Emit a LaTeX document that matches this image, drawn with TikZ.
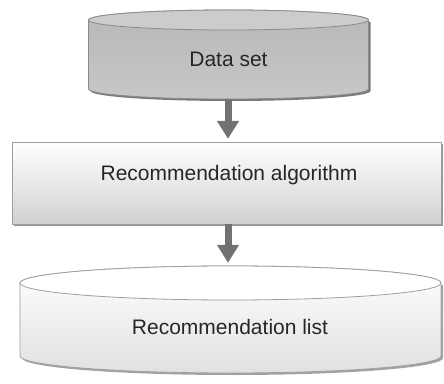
\documentclass[tikz,border=0pt]{standalone}
\usepackage{fontspec}
\setmainfont{Liberation Sans}
\usetikzlibrary{arrows.meta}
\definecolor{edgegray}{HTML}{8A8A8A}
\definecolor{shadowgray}{HTML}{7A7A7A}
\definecolor{arrowgray}{HTML}{727272}
\begin{document}
\begin{tikzpicture}[x=1pt,y=1pt,
  lbl/.style={inner sep=0pt, font=\fontsize{21}{25}\selectfont, text=black!85},
  hold/.style={inner sep=0pt, draw=none},
  arr/.style={draw=arrowgray, line width=7pt, -{Triangle[width=21pt,length=18pt]}, shorten >=3pt}
]
\useasboundingbox (0,0) rectangle (444,383);
\fill[white] (0,0) rectangle (444,383);

% ---------- top cylinder: Data set ----------
\fill[shadowgray] (90.5,361) -- (90.5,292) arc (180:360:140 and 10) -- (370.5,361) -- cycle;
\shade[top color=black!28, middle color=black!36, bottom color=black!22, draw=edgegray, line width=0.8pt]
  (88.5,363) -- (88.5,294) arc (180:360:140 and 10) -- (368.5,363) arc (0:180:140 and 10) -- cycle;
\filldraw[fill=black!20, draw=edgegray, line width=0.8pt] (228.5,363) ellipse (140 and 10);
\node[hold, minimum width=280pt, minimum height=89pt] (ds) at (228,328.5) {};
\node[lbl] (dst) at (228.5,323.5) {Data set};

% ---------- rectangle: Recommendation algorithm ----------
\fill[shadowgray!80] (14,157) rectangle (443,239);
\shade[top color=white, bottom color=black!18, draw=black!38, line width=0.8pt] (12,159) rectangle (441,241);
\node[hold, minimum width=429pt, minimum height=82pt] (alg) at (228,200) {};
\node[lbl] (algt) at (229,208) {Recommendation algorithm};

% ---------- bottom cylinder: Recommendation list ----------
\fill[shadowgray!70] (22,98) -- (22,25) arc (180:360:210.5 and 17) -- (443,98) -- cycle;
\shade[top color=white, bottom color=black!12, draw=black!38, line width=0.8pt]
  (20,100) -- (20,27) arc (180:360:210.5 and 17) -- (441,100) arc (0:180:210.5 and 17) -- cycle;
\filldraw[fill=white, draw=black!38, line width=0.8pt] (230.5,100) ellipse (210.5 and 17);
\node[hold, minimum width=421pt, minimum height=107pt] (rl) at (228,63.5) {};
\node[lbl] (rlt) at (230,56) {Recommendation list};

% ---------- arrows ----------
\draw[arr] (ds.south) -- (alg.north);
\draw[arr] (alg.south) -- (rl.north);
\end{tikzpicture}
\end{document}
